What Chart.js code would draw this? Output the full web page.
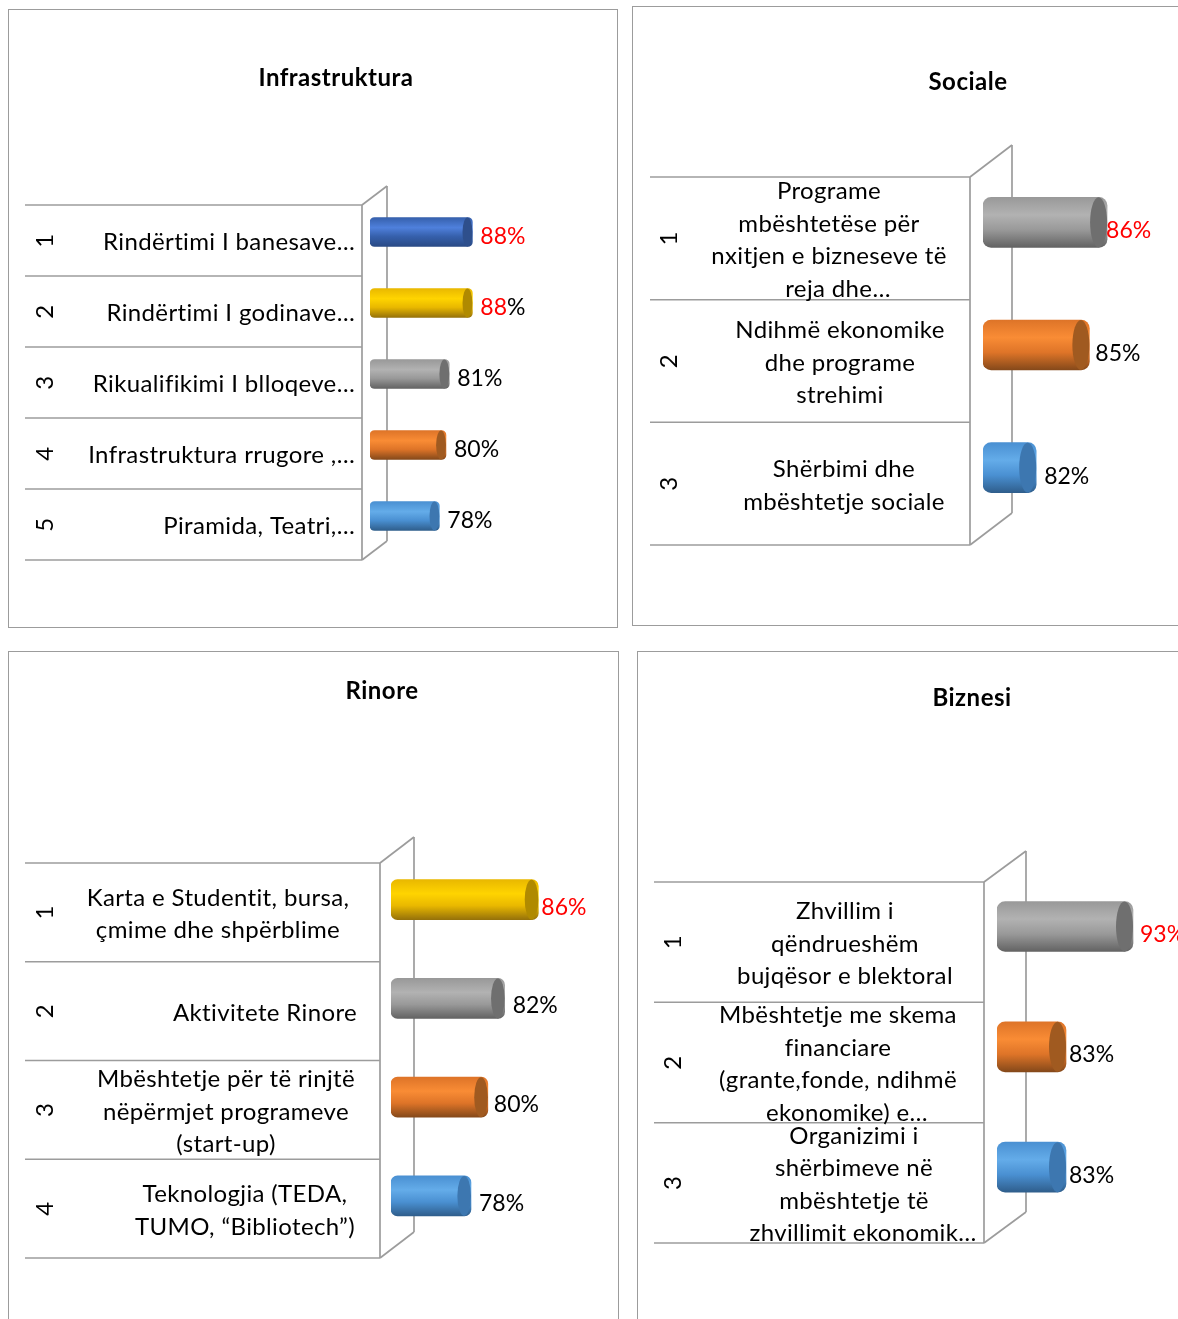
<!DOCTYPE html>
<html>
<head>
<meta charset="utf-8">
<title>Infrastruktura, Sociale, Rinore, Biznesi</title>
<script src="https://cdn.jsdelivr.net/npm/chart.js@4"></script>
<style>
  html, body { margin: 0; padding: 0; background: #fff; }
  #page { position: relative; width: 1178px; height: 1319px; overflow: hidden; }
  .panel { position: absolute; box-sizing: border-box; border: 1.5px solid #9c9c9c; background: #fff; }
  canvas { position: absolute; left: 0; top: 0; }
</style>
</head>
<body>
<div id="page"></div>
<script>
// data
const infraLabels = [
  ['Rindërtimi I banesave…'],
  ['Rindërtimi I godinave…'],
  ['Rikualifikimi I blloqeve…'],
  ['Infrastruktura rrugore ,…'],
  ['Piramida, Teatri,…'],
];
const infraValues = [88, 88, 81, 80, 78];

const socialLabels = [
  ['Programe', 'mbështetëse për', 'nxitjen e bizneseve të', 'reja dhe…'],
  ['Ndihmë ekonomike', 'dhe programe', 'strehimi'],
  ['Shërbimi dhe', 'mbështetje sociale'],
];
const socialValues = [86, 85, 82];

const youthLabels = [
  ['Karta e Studentit, bursa,', 'çmime dhe shpërblime'],
  ['Aktivitete Rinore'],
  ['Mbështetje për të rinjtë', 'nëpërmjet programeve', '(start-up)'],
  ['Teknologjia (TEDA,', 'TUMO, “Bibliotech”)'],
];
const youthValues = [86, 82, 80, 78];

const businessLabels = [
  ['Zhvillim i', 'qëndrueshëm', 'bujqësor e blektoral'],
  ['Mbështetje me skema', 'financiare', '(grante,fonde, ndihmë', 'ekonomike) e…'],
  ['Organizimi i', 'shërbimeve në', 'mbështetje të', 'zhvillimit ekonomik…'],
];
const businessValues = [93, 83, 83];

// colours: top edge, highlight, bottom edge, end cap
const blue = ['#3660ac', '#4f80dc', '#2a4a85', '#2e4f8c'];
const yellow = ['#e9b800', '#ffd400', '#96720a', '#b08a00'];
const grey = ['#999999', '#b2b2b2', '#636363', '#6f6f6f'];
const orange = ['#de7428', '#f98c35', '#85491a', '#a05a20'];
const skyblue = ['#4a90d2', '#64ace9', '#2f5e8c', '#3d77b0'];

const RED = '#ff0000';
const BLACK = '#000000';
const FONT = 'Lato, sans-serif';

// x,y,w,h are page pixels. front/rear are the 3D wall, rowTop/rowBottom the front plane
const panels = [
  {
    title: 'Infrastruktura', titleX: 336, titleY: 78,
    labels: infraLabels, values: infraValues,
    colors: [blue, yellow, grey, orange, skyblue],
    valueColors: [RED, 'mixed', BLACK, BLACK, BLACK],
    valueGaps: [8, 8, 8, 8, 8], valueDrop: 5,
    x: 8, y: 9, w: 610, h: 619,
    ruleLeft: 25, front: 362, rear: 387, rowTop: 205, rowBottom: 560, depth: 19,
    numberX: 45, labelX: [355, 355, 355, 355, 355], alignRight: true,
    plotLeft: 370, plotRight: 512, xMin: 57, xMax: 100, barH: 29, lift: 8.5,
  },
  {
    title: 'Sociale', titleX: 968, titleY: 82,
    labels: socialLabels, values: socialValues,
    colors: [grey, orange, skyblue],
    valueColors: [RED, BLACK, BLACK],
    valueGaps: [-1, 6, 8], valueDrop: 8.5,
    x: 632, y: 6, w: 560, h: 620,
    ruleLeft: 650, front: 970, rear: 1012, rowTop: 177, rowBottom: 545, depth: 32,
    numberX: 669, labelX: [829, 840, 844],
    plotLeft: 983, plotRight: 1178, xMin: 79, xMax: 90, barH: 50, lift: 16,
  },
  {
    title: 'Rinore', titleX: 382, titleY: 691,
    labels: youthLabels, values: youthValues,
    colors: [yellow, grey, orange, skyblue],
    valueColors: [RED, BLACK, BLACK, BLACK],
    valueGaps: [3, 8, 6, 8], valueDrop: 7.5,
    x: 8, y: 651, w: 611, h: 700,
    ruleLeft: 25, front: 380, rear: 414, rowTop: 863, rowBottom: 1258, depth: 26,
    numberX: 45, labelX: [218, 265, 226, 245],
    plotLeft: 391, plotRight: 572, xMin: 68.5, xMax: 90, barH: 40, lift: 12.7,
  },
  {
    title: 'Biznesi', titleX: 972, titleY: 698,
    labels: businessLabels, values: businessValues,
    colors: [grey, orange, skyblue],
    valueColors: [RED, BLACK, BLACK],
    valueGaps: [7, 3, 3], valueDrop: 8,
    x: 637, y: 651, w: 560, h: 700,
    ruleLeft: 654, front: 984, rear: 1026, rowTop: 882, rowBottom: 1243, depth: 31,
    numberX: 673, labelX: [845, 838, 854],
    plotLeft: 997, plotRight: 1146.4, xMin: 72.7, xMax: 95, barH: 50, lift: 15.7,
  },
];

const LINE = '#9c9c9c';

function strokeLine(c, x1, y1, x2, y2, width) {
  c.beginPath();
  c.moveTo(x1, y1);
  c.lineTo(x2, y2);
  c.lineWidth = width;
  c.strokeStyle = LINE;
  c.stroke();
}

function makeWallPlugin(p) {
  return {
    id: 'wall',
    // rear wall and category text go behind the bars
    beforeDatasetsDraw(chart) {
      const c = chart.ctx;
      const step = (p.rowBottom - p.rowTop) / p.values.length;
      c.save();
      c.translate(-p.x, -p.y);
      strokeLine(c, p.rear, p.rowTop - p.depth, p.rear, p.rowBottom - p.depth, 1.7);
      strokeLine(c, p.front, p.rowTop, p.rear, p.rowTop - p.depth, 1.7);
      strokeLine(c, p.front, p.rowBottom, p.rear, p.rowBottom - p.depth, 1.7);
      strokeLine(c, p.front, p.rowTop, p.front, p.rowBottom, 1.7);
      for (let i = 0; i <= p.values.length; i++) {
        const y = p.rowTop + step * i;
        strokeLine(c, p.ruleLeft, y, p.front, y, 1.5);
      }

      c.fillStyle = BLACK;
      c.textBaseline = 'middle';
      c.font = '24px ' + FONT;
      c.letterSpacing = '0.36px';
      p.labels.forEach((lines, i) => {
        const mid = p.rowTop + step * (i + 0.5);
        // rotated category number
        c.save();
        c.translate(p.numberX, mid);
        c.rotate(-Math.PI / 2);
        c.textAlign = 'center';
        c.fillText(String(i + 1), 0, 0);
        c.restore();
        // category text
        c.textAlign = p.alignRight ? 'right' : 'center';
        lines.forEach((line, n) => {
          let lx = p.labelX[i];
          if (!p.alignRight && line.endsWith('…')) lx += 9;
          const ly = mid + 2 + (n - (lines.length - 1) / 2) * 32.5;
          c.fillText(line, lx, ly);
        });
      });

      c.font = 'bold 24px ' + FONT;
      c.letterSpacing = '0.5px';
      c.textAlign = 'center';
      c.fillText(p.title, p.titleX, p.titleY);
      c.letterSpacing = '0px';
      c.restore();
    },
    // end caps and value labels
    afterDatasetsDraw(chart) {
      const c = chart.ctx;
      const meta = chart.getDatasetMeta(0);
      meta.data.forEach((bar, i) => {
        const rx = bar.height * 0.17;
        c.beginPath();
        c.ellipse(bar.x - rx, bar.y, rx, bar.height / 2, 0, 0, Math.PI * 2);
        c.fillStyle = p.colors[i][3];
        c.fill();

        const tx = bar.x + p.valueGaps[i];
        const ty = bar.y + p.valueDrop;
        c.font = '23px ' + FONT;
        c.textAlign = 'left';
        c.textBaseline = 'middle';
        if (p.valueColors[i] === 'mixed') {
          const digits = String(p.values[i]);
          c.fillStyle = RED;
          c.fillText(digits, tx, ty);
          c.fillStyle = BLACK;
          c.fillText('%', tx + c.measureText(digits).width, ty);
        } else {
          c.fillStyle = p.valueColors[i];
          c.fillText(p.values[i] + '%', tx, ty);
        }
      });
    },
  };
}

function barFill(p) {
  return (context) => {
    const tone = p.colors[context.dataIndex];
    if (!tone) return '#999999';
    const y = context.chart.scales.y ? context.chart.scales.y.getPixelForValue(context.dataIndex) : NaN;
    if (!Number.isFinite(y)) return tone[1];
    const g = context.chart.ctx.createLinearGradient(0, y - p.barH / 2, 0, y + p.barH / 2);
    g.addColorStop(0, tone[0]);
    g.addColorStop(0.35, tone[1]);
    g.addColorStop(0.65, tone[0]);
    g.addColorStop(1, tone[2]);
    return g;
  };
}

const page = document.getElementById('page');

panels.forEach((p) => {
  const box = document.createElement('div');
  box.className = 'panel';
  box.style.left = p.x + 'px';
  box.style.top = p.y + 'px';
  box.style.width = p.w + 'px';
  box.style.height = p.h + 'px';
  page.appendChild(box);

  const canvas = document.createElement('canvas');
  canvas.width = p.w;
  canvas.height = p.h;
  canvas.style.left = p.x + 'px';
  canvas.style.top = p.y + 'px';
  page.appendChild(canvas);

  // bars sit above the row centres because of the 3D depth
  const plotTop = p.rowTop - p.lift;
  const plotBottom = p.rowBottom - p.lift;

  new Chart(canvas, {
    type: 'bar',
    plugins: [makeWallPlugin(p)],
    data: {
      labels: p.labels,
      datasets: [{
        label: p.title,
        data: p.values,
        base: p.xMin,
        backgroundColor: barFill(p),
        barThickness: p.barH,
        borderRadius: p.barH * 0.17,
        borderSkipped: false,
      }],
    },
    options: {
      indexAxis: 'y',
      responsive: false,
      animation: false,
      layout: {
        padding: {
          left: p.plotLeft - p.x,
          right: p.x + p.w - p.plotRight,
          top: plotTop - p.y,
          bottom: p.y + p.h - plotBottom,
        },
      },
      scales: {
        x: { display: false, min: p.xMin, max: p.xMax },
        y: { display: false },
      },
      plugins: {
        legend: { display: false },
        tooltip: { enabled: false },
      },
    },
  });
});
</script>
</body>
</html>
